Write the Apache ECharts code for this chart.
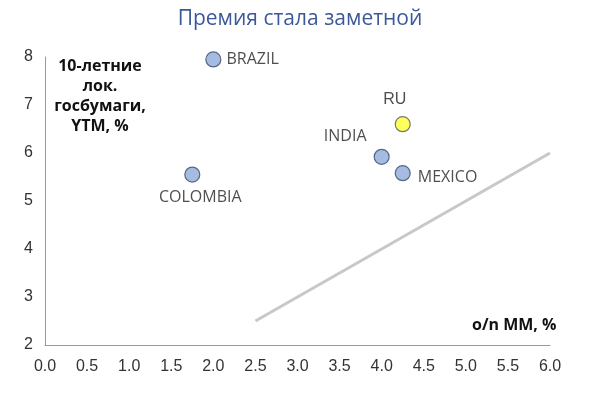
<!DOCTYPE html>
<html><head><meta charset="utf-8">
<script src="https://cdn.jsdelivr.net/npm/echarts@6/dist/echarts.min.js"></script>
<style>html,body{margin:0;background:#fff}#c{width:600px;height:412px}</style>
</head><body><div id="c"></div>
<script>
// countries: name, o/n MM rate, 10y local yield
const names = ['BRAZIL', 'COLOMBIA', 'INDIA', 'MEXICO'];
const rates = [2.0, 1.75, 4.0, 4.25];
const yields = [7.95, 5.55, 5.92, 5.58];
const ruPoint = [4.25, 6.6];
const lineX = [2.5, 6.0];
const lineY = [2.5, 6.0];

const labelPos = {
    BRAZIL: { position: 'right', offset: [0, 0] },
    COLOMBIA: { position: 'bottom', offset: [8, 2] },
    INDIA: { position: 'left', offset: [-2, -20] },
    MEXICO: { position: 'right', offset: [2, 4] }
};

const chart = echarts.init(document.getElementById('c'));
chart.setOption({
    title: {
        text: 'Премия стала заметной', left: 'center', top: 4,
        textStyle: { color: '#3b5998', fontSize: 21, fontWeight: 'normal', fontFamily: 'Open Sans' }
    },
    grid: { left: 45, right: 50, top: 57, bottom: 67 },
    xAxis: {
        type: 'value', min: 0, max: 6, interval: 0.5,
        axisLine: { lineStyle: { color: '#999' } },
        axisTick: { show: false }, splitLine: { show: false },
        axisLabel: { color: '#333', fontSize: 16, margin: 14, formatter: v => v.toFixed(1) }
    },
    yAxis: {
        type: 'value', min: 2, max: 8, interval: 1,
        axisLine: { show: true, lineStyle: { color: '#999' } },
        axisTick: { show: false }, splitLine: { show: false },
        axisLabel: { color: '#333', fontSize: 16, margin: 12 }
    },
    graphic: [
        { type: 'text', x: 100, y: 56, style: { text: '10-летние\nлок.\nгосбумаги,\nYTM, %', font: 'bold 16px Open Sans', fill: '#111', textAlign: 'center', align: 'center', lineHeight: 20 } },
        { type: 'text', x: 472, y: 317, style: { text: 'o/n MM, %', font: 'bold 16px Open Sans', fill: '#111' } }
    ],
    series: [
        {
            type: 'line', data: lineX.map((x, i) => [x, lineY[i]]), symbol: 'none',
            lineStyle: { color: '#c8c8c8', width: 3 }, silent: true
        },
        {
            type: 'scatter', symbolSize: 15,
            itemStyle: { color: '#8eaadb', borderColor: '#3a4a6a', borderWidth: 1.2 },
            data: names.map((n, i) => ({
                value: [rates[i], yields[i]], name: n,
                label: Object.assign({ show: true, formatter: n, color: '#222', fontSize: 16, fontFamily: 'Open Sans' }, labelPos[n])
            }))
        },
        {
            type: 'scatter', symbolSize: 15,
            itemStyle: { color: '#ffff33', borderColor: '#555', borderWidth: 1.2 },
            data: [{ value: ruPoint, label: { show: true, formatter: 'RU', position: 'top', offset: [-8, -4], color: '#222', fontSize: 16 } }]
        }
    ]
});
</script></body></html>
